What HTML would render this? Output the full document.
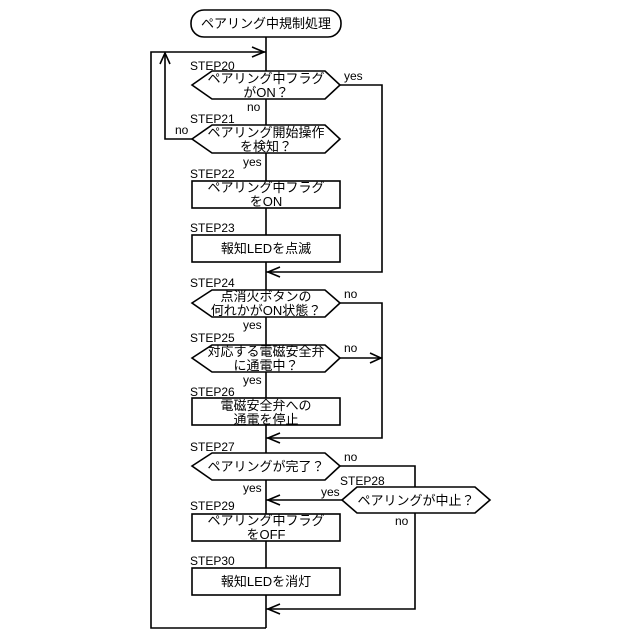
<!DOCTYPE html>
<html><head><meta charset="utf-8"><style>
html,body{margin:0;padding:0;background:#fff;}
svg{display:block}
text{font-family:"Liberation Sans","Noto Sans CJK JP",sans-serif;fill:#000}
.t{font-size:13px;text-anchor:middle}
.s{font-size:12px}
</style></head><body>
<svg width="640" height="640" viewBox="0 0 640 640" xmlns="http://www.w3.org/2000/svg">
<g stroke="#000" stroke-width="1.6" fill="none">
<!-- main spine -->
<line x1="266" y1="37" x2="266" y2="628"/>
<!-- loop -->
<polyline points="266,628 151,628 151,52 266,52"/>
<polyline points="252,47 264,52 252,57"/>
<!-- terminal -->
<rect x="191" y="10" width="150" height="27" rx="13" fill="#fff"/>
<!-- step20 -->
<polygon points="192,85 212,71 325,71 340,85 325,99 212,99" fill="#fff"/>
<polyline points="340,85 382,85 382,272 266,272"/>
<polyline points="280,267 268,272 280,277"/>
<!-- step21 -->
<polygon points="192,139 212,125 325,125 340,139 325,153 212,153" fill="#fff"/>
<polyline points="192,139 165,139 165,53"/>
<polyline points="160,64 165,53 170,64"/>
<!-- 22,23 -->
<rect x="192" y="181" width="148" height="27" fill="#fff"/>
<rect x="192" y="235" width="148" height="27" fill="#fff"/>
<!-- step24 -->
<polygon points="192,303 212,290 325,290 340,303 325,317 212,317" fill="#fff"/>
<polyline points="340,303 382,303 382,438 266,438"/>
<polyline points="280,433 268,438 280,443"/>
<!-- step25 -->
<polygon points="192,358 212,345 325,345 340,358 325,372 212,372" fill="#fff"/>
<line x1="340" y1="358" x2="382" y2="358"/>
<polyline points="370,353 381,358 370,363"/>
<!-- step26 -->
<rect x="192" y="398" width="148" height="27" fill="#fff"/>
<!-- step27 -->
<polygon points="192,466 212,453 325,453 340,466 325,480 212,480" fill="#fff"/>
<polyline points="340,466 415,466 415,487"/>
<polyline points="415,513 415,609 266,609"/>
<polyline points="280,604 268,609 280,614"/>
<!-- step28 -->
<polygon points="342,500 357,487 475,487 490,500 475,513 357,513" fill="#fff"/>
<line x1="342" y1="500" x2="266" y2="500"/>
<polyline points="280,495 268,500 280,505"/>
<!-- 29,30 -->
<rect x="192" y="514" width="148" height="27" fill="#fff"/>
<rect x="192" y="568" width="148" height="27" fill="#fff"/>
</g>
<text class="t" x="266" y="28">ペアリング中規制処理</text>

<text class="s" x="190" y="70">STEP20</text>
<text class="t" x="266" y="83">ペアリング中フラグ</text>
<text class="t" x="266" y="97">がON？</text>
<text class="s" x="344" y="80">yes</text>
<text class="s" x="247" y="111">no</text>

<text class="s" x="190" y="123">STEP21</text>
<text class="t" x="266" y="137">ペアリング開始操作</text>
<text class="t" x="266" y="151">を検知？</text>
<text class="s" x="175" y="134">no</text>
<text class="s" x="243" y="166">yes</text>

<text class="s" x="190" y="178">STEP22</text>
<text class="t" x="266" y="192">ペアリング中フラグ</text>
<text class="t" x="266" y="206">をON</text>

<text class="s" x="190" y="232">STEP23</text>
<text class="t" x="266" y="253">報知LEDを点滅</text>

<text class="s" x="190" y="287">STEP24</text>
<text class="t" x="266" y="301">点消火ボタンの</text>
<text class="t" x="266" y="315">何れかがON状態？</text>
<text class="s" x="344" y="298">no</text>
<text class="s" x="243" y="329">yes</text>

<text class="s" x="190" y="342">STEP25</text>
<text class="t" x="266" y="356">対応する電磁安全弁</text>
<text class="t" x="266" y="370">に通電中？</text>
<text class="s" x="344" y="352">no</text>
<text class="s" x="243" y="384">yes</text>

<text class="s" x="190" y="396">STEP26</text>
<text class="t" x="266" y="410">電磁安全弁への</text>
<text class="t" x="266" y="424">通電を停止</text>

<text class="s" x="190" y="451">STEP27</text>
<text class="t" x="266" y="471">ペアリングが完了？</text>
<text class="s" x="344" y="461">no</text>
<text class="s" x="243" y="492">yes</text>

<text class="s" x="340" y="485">STEP28</text>
<text class="t" x="416" y="505">ペアリングが中止？</text>
<text class="s" x="321" y="496">yes</text>
<text class="s" x="395" y="525">no</text>

<text class="s" x="190" y="510">STEP29</text>
<text class="t" x="266" y="525">ペアリング中フラグ</text>
<text class="t" x="266" y="539">をOFF</text>

<text class="s" x="190" y="565">STEP30</text>
<text class="t" x="266" y="586">報知LEDを消灯</text>
</svg>
</body></html>
